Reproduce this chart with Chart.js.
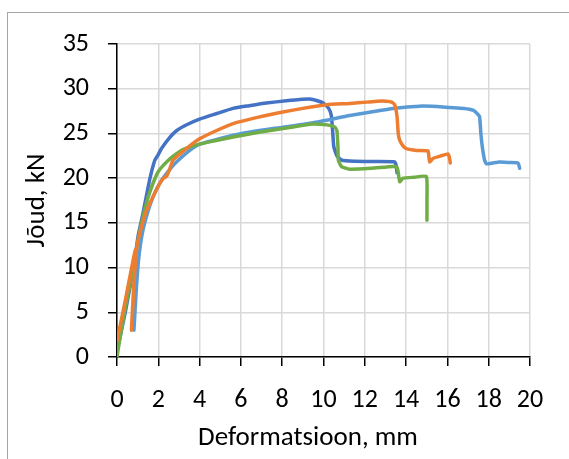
<!DOCTYPE html>
<html>
<head>
<meta charset="utf-8">
<script src="https://cdn.jsdelivr.net/npm/chart.js@4.4.0/dist/chart.umd.min.js"></script>
<style>
  html, body { margin: 0; padding: 0; background: #fff; }
  #wrap { position: relative; width: 569px; height: 459px; overflow: hidden; }
  #frame { position: absolute; left: 7px; top: 12px; width: 600px; height: 500px; border-left: 1px solid #a6a6a6; border-top: 1px solid #a6a6a6; }
  canvas { position: absolute; left: 0; top: 0; }
</style>
</head>
<body>
<div id="wrap">
  <div id="frame"></div>
  <canvas id="c" width="569" height="459"></canvas>
</div>
<script>
// Axis definitions
const xTickValues = [0, 2, 4, 6, 8, 10, 12, 14, 16, 18, 20];
const yTickValues = [0, 5, 10, 15, 20, 25, 30, 35];
const xTitle = 'Deformatsioon, mm';
const yTitle = 'Jõud, kN';

// Series: [deformation mm, force kN]
const seriesDarkBlue = [
  [0.0, 0.6], [0.4, 5.0], [0.8, 10.0], [1.02, 13.5], [1.26, 16.1], [1.58, 19.8],
  [1.83, 22.0], [1.99, 22.6], [2.15, 23.3], [2.5, 24.4], [2.88, 25.3], [3.4, 26.0],
  [4.0, 26.6], [4.8, 27.2], [5.62, 27.8], [6.4, 28.1], [7.23, 28.4], [8.2, 28.65],
  [8.85, 28.8], [9.33, 28.85], [9.7, 28.65], [9.98, 28.4], [10.25, 27.8], [10.38, 27.0],
  [10.45, 25.0], [10.5, 23.5], [10.65, 22.5], [10.9, 22.0], [11.5, 21.9], [12.5, 21.85],
  [13.45, 21.8], [13.53, 21.3], [13.56, 20.6]
];
const seriesOrange = [
  [0.0, 1.8], [0.4, 6.3], [0.9, 12.0], [0.7, 3.0], [0.8, 7.5], [0.96, 12.3],
  [1.1, 13.8], [1.4, 16.2], [1.74, 17.9], [2.07, 19.4], [2.25, 20.0], [2.4, 20.2],
  [2.55, 21.0], [2.71, 22.0], [3.36, 23.3], [4.0, 24.4], [4.8, 25.3], [5.62, 26.1],
  [6.8, 26.8], [8.04, 27.4], [9.0, 27.8], [10.14, 28.2], [11.27, 28.35], [12.08, 28.5],
  [12.6, 28.6], [13.05, 28.6], [13.3, 28.5], [13.45, 28.2], [13.56, 26.9], [13.62, 25.0],
  [13.69, 24.25], [13.85, 23.6], [14.01, 23.3], [14.5, 23.1], [15.06, 23.05], [15.1, 22.5],
  [15.14, 21.8], [15.3, 22.2], [15.7, 22.5], [16.03, 22.7], [16.1, 22.3], [16.14, 21.7]
];
const seriesLightBlue = [
  [0.82, 3.0], [0.92, 7.0], [1.05, 11.0], [1.26, 14.2], [1.6, 17.0], [1.9, 18.7],
  [2.2, 19.9], [2.6, 21.1], [2.88, 21.8], [3.52, 23.1], [4.0, 23.8], [4.8, 24.3],
  [5.62, 24.8], [6.8, 25.3], [8.04, 25.7], [9.5, 26.2], [11.27, 27.0], [12.3, 27.4],
  [13.37, 27.8], [14.66, 28.05], [15.5, 28.0], [16.11, 27.9], [16.8, 27.8], [17.24, 27.6],
  [17.45, 27.2], [17.56, 26.85], [17.62, 25.0], [17.69, 23.5], [17.8, 22.0], [17.89, 21.6],
  [18.2, 21.7], [18.53, 21.8], [19.0, 21.75], [19.42, 21.7], [19.5, 21.1]
];
const seriesGreen = [
  [0.0, 0.0], [0.1, 1.5], [0.4, 5.5], [0.77, 9.7], [1.0, 12.8], [1.26, 15.7],
  [1.5, 17.8], [1.74, 19.4], [1.99, 20.7], [2.23, 21.4], [2.63, 22.3], [3.2, 23.2],
  [4.0, 23.8], [4.8, 24.2], [5.62, 24.6], [6.8, 25.1], [8.04, 25.55], [9.0, 25.9],
  [9.49, 26.05], [10.0, 26.0], [10.3, 25.9], [10.55, 25.7], [10.65, 25.3], [10.7, 23.5],
  [10.72, 22.0], [10.87, 21.3], [11.27, 21.0], [12.3, 21.1], [13.37, 21.3], [13.55, 21.2],
  [13.61, 20.8], [13.69, 19.6], [13.85, 20.0], [14.4, 20.1], [14.98, 20.2], [15.01, 17.5],
  [15.01, 15.3]
];

const FONT = "Carlito, Calibri, Lato, 'Liberation Sans', sans-serif";
const toPts = arr => arr.map(p => ({ x: p[0], y: p[1] }));
const lineDs = (data, color, order) => ({
  data: toPts(data), borderColor: color, backgroundColor: color,
  showLine: true, pointRadius: 0, borderWidth: 3.5, tension: 0.15,
  borderCapStyle: 'round', borderJoinStyle: 'round', order: order
});

// Bottom axis title, centred on the whole chart box like the original
const xTitlePlugin = {
  id: 'xTitle',
  afterDraw(chart) {
    const ctx = chart.ctx;
    ctx.save();
    ctx.font = '27px ' + FONT;
    ctx.fillStyle = '#000';
    ctx.textAlign = 'center';
    ctx.textBaseline = 'middle';
    ctx.fillText(xTitle, 308, 438);
    ctx.restore();
  }
};

new Chart(document.getElementById('c'), {
  type: 'scatter',
  data: {
    datasets: [
      lineDs(seriesDarkBlue, '#4472C4', 4),
      lineDs(seriesLightBlue, '#5B9BD5', 3),
      lineDs(seriesGreen, '#70AD47', 2),
      lineDs(seriesOrange, '#ED7D31', 1)
    ]
  },
  plugins: [xTitlePlugin],
  options: {
    responsive: false, animation: false, devicePixelRatio: 1,
    layout: { padding: { left: 0, top: 44, right: 39, bottom: 0 } },
    plugins: { legend: { display: false }, tooltip: { enabled: false } },
    scales: {
      x: {
        type: 'linear', min: 0, max: 20,
        afterBuildTicks: s => { s.ticks = xTickValues.map(v => ({ value: v })); },
        afterFit: s => { s.height = 102; },
        ticks: { color: '#000', font: { family: FONT, size: 26 }, padding: 19, maxRotation: 0, autoSkip: false },
        grid: { color: '#d9d9d9', lineWidth: 1.5, tickColor: '#000', tickLength: 9, drawTicks: true },
        border: { color: '#000', width: 1.5 },
        title: { display: false }
      },
      y: {
        type: 'linear', min: 0, max: 35,
        afterBuildTicks: s => { s.ticks = yTickValues.map(v => ({ value: v })); },
        afterFit: s => { s.width = 117; },
        ticks: { color: '#000', font: { family: FONT, size: 26 }, padding: 19, autoSkip: false },
        grid: { color: '#d9d9d9', lineWidth: 1.5, tickColor: '#000', tickLength: 9, drawTicks: true },
        border: { color: '#000', width: 1.5 },
        title: { display: true, text: yTitle, color: '#000', font: { family: FONT, size: 27 }, padding: { top: 21, bottom: 0 } }
      }
    }
  }
});
</script>
</body>
</html>
